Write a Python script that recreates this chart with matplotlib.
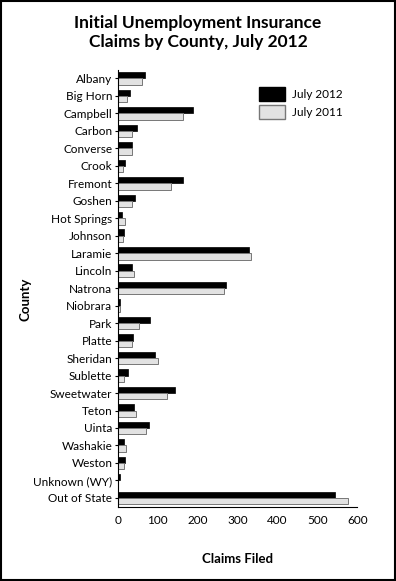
import numpy as np
import matplotlib
matplotlib.use("Agg")
import matplotlib.pyplot as plt
from matplotlib.patches import Rectangle, Patch

plt.rcParams["font.family"] = ["Lato", "DejaVu Sans"]

counties = ["Albany", "Big Horn", "Campbell", "Carbon", "Converse", "Crook",
            "Fremont", "Goshen", "Hot Springs", "Johnson", "Laramie", "Lincoln",
            "Natrona", "Niobrara", "Park", "Platte", "Sheridan", "Sublette",
            "Sweetwater", "Teton", "Uinta", "Washakie", "Weston",
            "Unknown (WY)", "Out of State"]
claims_2012 = [67, 29, 188, 48, 34, 18, 163, 43, 9, 15, 328, 35, 271, 4,
               80, 38, 94, 25, 143, 39, 78, 15, 18, 4, 545]
claims_2011 = [61, 23, 162, 35, 35, 13, 133, 35, 18, 12, 333, 40, 266, 5,
               53, 34, 100, 14, 122, 44, 70, 20, 14, 1, 578]

fig = plt.figure(figsize=(3.96, 5.81), dpi=100)
ax = fig.add_axes([0.298, 0.128, 0.604, 0.752])

y = np.arange(len(counties))
h = 0.36
ax.barh(y - h / 2, claims_2012, height=h, color="black", edgecolor="black", lw=0.5, label="July 2012")
ax.barh(y + h / 2, claims_2011, height=h, color="#e2e2e2", edgecolor="#777777", lw=0.7, label="July 2011")

ax.set_ylim(len(counties) - 0.5, -0.5)
ax.set_yticks(y)
ax.set_yticklabels(counties, fontsize=8.5)
ax.set_xlim(0, 600)
ax.set_xticks(range(0, 601, 100))
ax.tick_params(axis="x", labelsize=8.5, length=0, pad=6)
ax.tick_params(axis="y", length=2, pad=2)
for s in ["top", "right"]:
    ax.spines[s].set_visible(False)
ax.set_xlabel("Claims Filed", fontsize=9.5, fontweight="bold")
ax.xaxis.set_label_coords(0.5, -0.105)
ax.set_ylabel("County", fontsize=9.5, fontweight="bold")
ax.yaxis.set_label_coords(-0.36, 0.475)

leg_handles = [Patch(facecolor="black", edgecolor="black"),
               Patch(facecolor="#e2e2e2", edgecolor="#777777")]
ax.legend(leg_handles, ["July 2012", "July 2011"], loc="upper left",
          bbox_to_anchor=(0.545, 0.985), frameon=False, fontsize=8.5,
          handlelength=2.2, handleheight=1.4, handletextpad=0.6, labelspacing=0.4)

fig.text(0.5, 0.975, "Initial Unemployment Insurance\nClaims by County, July 2012",
         ha="center", va="top", fontsize=12.5, fontweight="bold", linespacing=1.25)

fig.patches.append(Rectangle((0.003, 0.002), 0.994, 0.996, transform=fig.transFigure,
                             fill=False, edgecolor="black", lw=1.5))

fig.savefig("out.png", dpi=100)
